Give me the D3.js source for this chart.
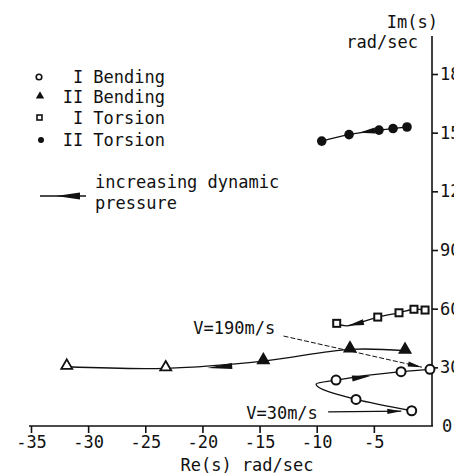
<!DOCTYPE html>
<html>
<head>
<meta charset="utf-8">
<script src="https://cdn.jsdelivr.net/npm/d3@7"></script>
<style>
  html, body { margin: 0; padding: 0; background: #fff; }
  svg { display: block; }
  text { font-family: "DejaVu Sans Mono", "Liberation Mono", monospace; fill: #111; }
</style>
</head>
<body>
<svg id="chart" width="454" height="474"></svg>
<script>
// ---- data ----
const reTicks = [-35, -30, -25, -20, -15, -10, -5];
const imTicks = [0, 30, 60, 90, 120, 150, 180];

// I Bending (open circles); third point is an unmarked turning vertex
const bend1Re   = [-1.69, -6.56, -10.06, -8.31, -2.62, -0.09];
const bend1Im   = [7.8, 13.6, 21.5, 23.5, 27.8, 29.0];
const bend1Mark = [1, 1, 0, 1, 1, 1];

// II Bending (triangles); last two drawn hollow
const bend2Re   = [-2.27, -7.09, -14.67, -23.21, -31.87];
const bend2Im   = [38.5, 39.2, 33.2, 29.5, 30.3];
const bend2Fill = [1, 1, 1, 0, 0];

// I Torsion (small squares); fifth point is an unmarked vertex
const tors1Re   = [-0.52, -1.49, -2.8, -4.66, -7.4, -8.25];
const tors1Im   = [59.3, 59.7, 57.9, 55.7, 51.2, 52.5];
const tors1Mark = [1, 1, 1, 1, 0, 1];

// II Torsion (filled circles)
const tors2Re = [-2.10, -3.32, -4.55, -7.17, -9.56];
const tors2Im = [152.9, 152.1, 151.3, 149.0, 145.7];

// direction arrows along the loci: [tailRe, tailIm, tipRe, tipIm]
const flowArrows = [
  [-4.9, 151.1, -6.3, 150.0],
  [-5.9, 53.1, -7.3, 51.3],
  [-17.4, 30.7, -19.6, 29.65],
  [-6.9, 24.3, -5.3, 25.6]
];

// annotations
const annoLabels = ["V=190m/s", "V=30m/s"];
const annoTextRe = [-20.8, -9.9];
const annoTextIm = [50.1, 6.6];
const annoLineFrom = [[-12.9, 46.0], [-9.0, 7.2]];
const annoLineTo   = [[-0.8, 30.1], [-2.6, 7.6]];

const legendLabels = ["I Bending", "II Bending", "I Torsion", "II Torsion"];

// ---- drawing ----
const svg = d3.select("#chart");
const x = d3.scaleLinear().domain([-35, 0]).range([31, 431]);
const y = d3.scaleLinear().domain([0, 180]).range([426, 74]);
const ink = "#111";

// axes lines
svg.append("line").attr("x1", x(-35) - 2).attr("x2", x(0) + 2)
  .attr("y1", y(0)).attr("y2", y(0)).attr("stroke", ink).attr("stroke-width", 1.6);
svg.append("line").attr("x1", x(0) + 1).attr("x2", x(0) + 1)
  .attr("y1", 36).attr("y2", y(0)).attr("stroke", ink).attr("stroke-width", 1.6);

const xAxis = svg.append("g").attr("transform", `translate(0,${y(0)})`)
  .call(d3.axisBottom(x).tickValues(reTicks).tickSize(7).tickPadding(3)
        .tickFormat(d => String(d)));
xAxis.select(".domain").remove();
xAxis.selectAll(".tick line").attr("stroke", ink).attr("stroke-width", 1.6);
xAxis.selectAll(".tick text").attr("font-size", 17)
  .attr("font-family", "DejaVu Sans Mono").attr("fill", ink);

const yAxis = svg.append("g").attr("transform", `translate(${x(0) + 1},0)`)
  .call(d3.axisRight(y).tickValues(imTicks).tickSize(6).tickPadding(2)
        .tickFormat(d => String(d)));
yAxis.select(".domain").remove();
yAxis.selectAll(".tick line").attr("stroke", ink).attr("stroke-width", 1.6)
  .attr("display", d => d === 0 ? "none" : null);
yAxis.selectAll(".tick text").attr("font-size", 17)
  .attr("font-family", "DejaVu Sans Mono").attr("fill", ink)
  .attr("x", d => d === 0 ? 10 : 8);

// axis titles
svg.append("text").attr("x", 247).attr("y", 465).attr("dy", "0.35em")
  .attr("text-anchor", "middle").attr("font-size", 17).text("Re(s) rad/sec");
svg.append("text").attr("x", 438).attr("y", 22).attr("dy", "0.35em")
  .attr("text-anchor", "end").attr("font-size", 17).text("Im(s)");
svg.append("text").attr("x", 418).attr("y", 42).attr("dy", "0.35em")
  .attr("text-anchor", "end").attr("font-size", 17).text("rad/sec");

const curveCR = d3.line().x(d => x(d[0])).y(d => y(d[1])).curve(d3.curveCatmullRom.alpha(0.5));
const curveMY = d3.line().x(d => x(d[0])).y(d => y(d[1])).curve(d3.curveMonotoneY);
function zipPts(re, im) { return re.map((r, i) => [r, im[i]]); }

function drawLocus(re, im, gen) {
  svg.append("path").datum(zipPts(re, im)).attr("d", gen)
    .attr("fill", "none").attr("stroke", ink).attr("stroke-width", 1.3);
}
drawLocus(bend1Re, bend1Im, curveMY);
drawLocus(bend2Re, bend2Im, curveCR);
drawLocus(tors1Re, tors1Im, curveCR);
drawLocus(tors2Re, tors2Im, curveCR);

// markers
svg.append("g").selectAll("circle").data(zipPts(bend1Re, bend1Im).filter((d, i) => bend1Mark[i]))
  .join("circle").attr("cx", d => x(d[0])).attr("cy", d => y(d[1])).attr("r", 4.5)
  .attr("fill", "#fff").attr("stroke", ink).attr("stroke-width", 2);

const tri = d3.symbol().type(d3.symbolTriangle).size(52);
svg.append("g").selectAll("path").data(zipPts(bend2Re, bend2Im))
  .join("path").attr("d", tri)
  .attr("transform", d => `translate(${x(d[0])},${y(d[1]) - 1})`)
  .attr("fill", (d, i) => bend2Fill[i] ? ink : "#fff")
  .attr("stroke", ink).attr("stroke-width", 1.8);

svg.append("g").selectAll("rect").data(zipPts(tors1Re, tors1Im).filter((d, i) => tors1Mark[i]))
  .join("rect").attr("x", d => x(d[0]) - 3.5).attr("y", d => y(d[1]) - 3.5)
  .attr("width", 7).attr("height", 7)
  .attr("fill", "#fff").attr("stroke", ink).attr("stroke-width", 2);

svg.append("g").selectAll("circle").data(zipPts(tors2Re, tors2Im))
  .join("circle").attr("cx", d => x(d[0])).attr("cy", d => y(d[1])).attr("r", 4.8)
  .attr("fill", ink);

// tapered arrowheads
function arrowHead(x0, y0, x1, y1, len, half) {
  const a = Math.atan2(y1 - y0, x1 - x0);
  const bx = x1 - len * Math.cos(a), by = y1 - len * Math.sin(a);
  const nx = -Math.sin(a) * half, ny = Math.cos(a) * half;
  return `M${x1},${y1}L${bx + nx},${by + ny}L${bx - nx},${by - ny}Z`;
}
svg.append("g").selectAll("path").data(flowArrows).join("path")
  .attr("d", d => arrowHead(x(d[0]), y(d[1]), x(d[2]), y(d[3]), Math.hypot(x(d[2]) - x(d[0]), y(d[3]) - y(d[1])), 3))
  .attr("fill", ink);

// annotations
annoLabels.forEach((lab, i) => {
  svg.append("text").attr("x", x(annoTextRe[i])).attr("y", y(annoTextIm[i])).attr("dy", "0.35em")
    .attr("text-anchor", i === 0 ? "start" : "end").attr("font-size", 17).text(lab);
  const f = annoLineFrom[i], t = annoLineTo[i];
  svg.append("line").attr("x1", x(f[0])).attr("y1", y(f[1])).attr("x2", x(t[0])).attr("y2", y(t[1]))
    .attr("stroke", ink).attr("stroke-width", i === 0 ? 1 : 1.2)
    .attr("stroke-dasharray", i === 0 ? "5,2" : null);
  svg.append("path").attr("d", arrowHead(x(f[0]), y(f[1]), x(t[0]), y(t[1]), 14, 2.6)).attr("fill", ink);
});

// legend
const legY = [77, 97, 118, 140];
const lg = svg.append("g");
legendLabels.forEach((lab, i) => {
  lg.append("text").attr("x", 165).attr("y", legY[i]).attr("dy", "0.35em")
    .attr("text-anchor", "end").attr("font-size", 17).text(lab);
});
lg.append("circle").attr("cx", 39).attr("cy", legY[0]).attr("r", 2.8)
  .attr("fill", "#fff").attr("stroke", ink).attr("stroke-width", 1.6);
lg.append("path").attr("d", d3.symbol().type(d3.symbolTriangle).size(30))
  .attr("transform", `translate(40,${legY[1] - 1})`).attr("fill", ink);
lg.append("rect").attr("x", 37).attr("y", legY[2] - 3).attr("width", 5).attr("height", 5)
  .attr("fill", "#fff").attr("stroke", ink).attr("stroke-width", 1.6);
lg.append("circle").attr("cx", 41).attr("cy", legY[3]).attr("r", 3).attr("fill", ink);

// legend arrow for increasing dynamic pressure
lg.append("line").attr("x1", 40).attr("x2", 86).attr("y1", 196).attr("y2", 196)
  .attr("stroke", ink).attr("stroke-width", 1.6);
lg.append("path").attr("d", arrowHead(80, 196, 56, 196, 24, 3.5)).attr("fill", ink);
lg.append("text").attr("x", 95).attr("y", 182).attr("dy", "0.35em").attr("font-size", 17)
  .text("increasing dynamic");
lg.append("text").attr("x", 95).attr("y", 203).attr("dy", "0.35em").attr("font-size", 17)
  .text("pressure");
</script>
</body>
</html>
